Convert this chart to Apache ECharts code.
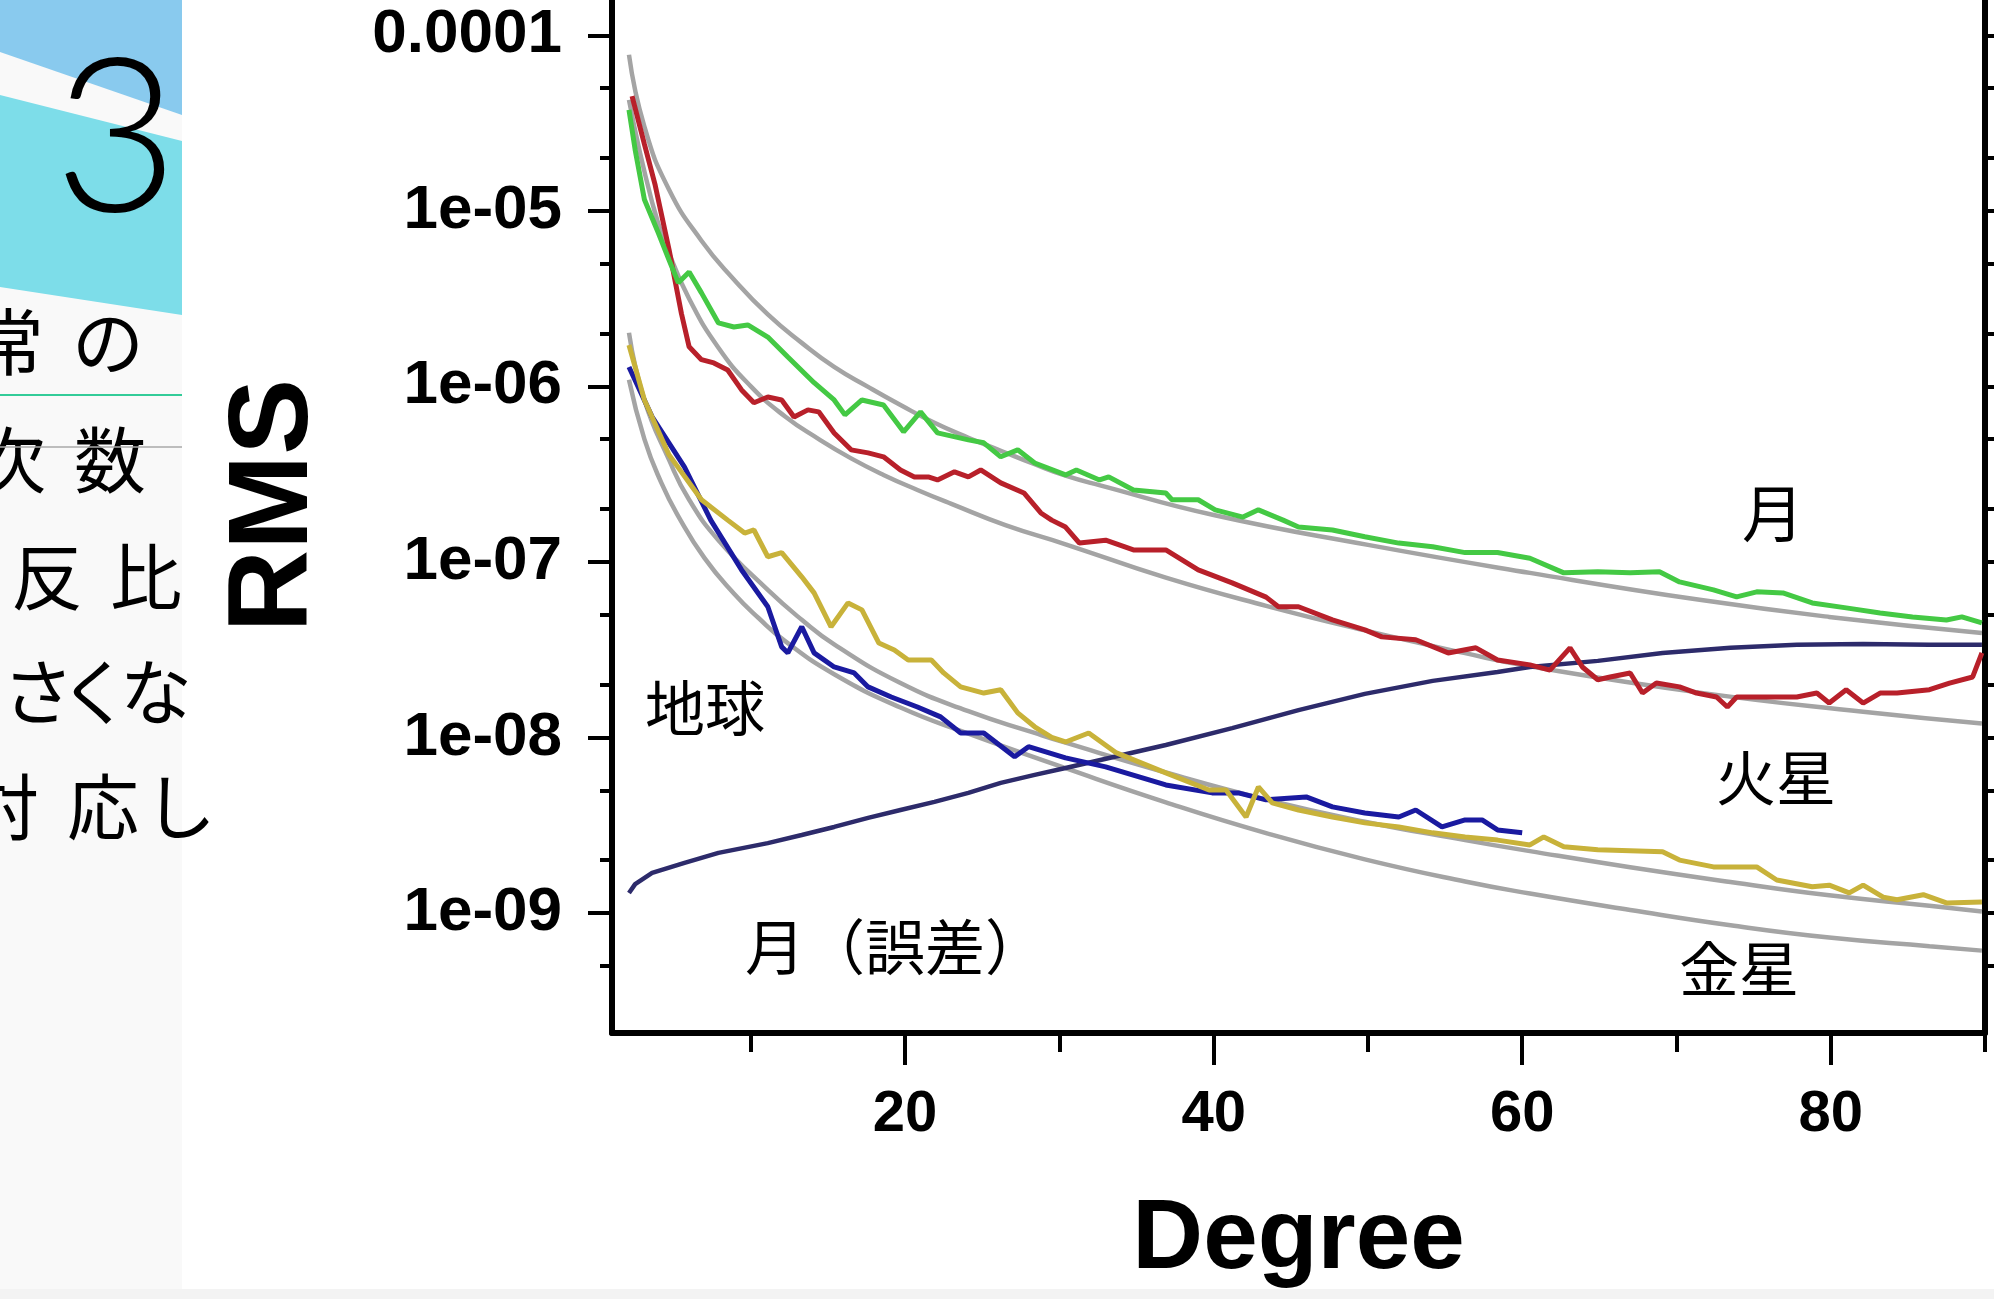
<!DOCTYPE html>
<html>
<head>
<meta charset="utf-8">
<script src="https://cdn.jsdelivr.net/npm/echarts@6/dist/echarts.min.js"></script>
<style>
  html, body { margin: 0; padding: 0; background: #fff; }
  #chart { width: 1994px; height: 1299px; }
</style>
</head>
<body>
<div id="chart"></div>
<script>
// axis ticks
const degreeTicks = [20, 40, 60, 80];
const degreeMinorTicks = [10, 30, 50, 70, 90];
const rmsTicks = [1e-9, 1e-8, 1e-7, 1e-6, 1e-5, 1e-4];
const rmsTickLabels = ['1e-09', '1e-08', '1e-07', '1e-06', '1e-05', '0.0001'];
const rmsMinorTicks = [5e-10, 2e-9, 5e-9, 2e-8, 5e-8, 2e-7, 5e-7, 2e-6, 5e-6, 2e-5, 5e-5];
const degreeMin = 1, degreeMax = 90;
const rmsMin = 2.07e-10, rmsMax = 1.59e-4;

// measured spectra, [degree, rms]
const moonRms = [[2.1,3.76e-5],[2.5,2.23e-5],[3.1,1.16e-5],[4.0,7.5e-6],[4.7,5.25e-6],[5.3,3.89e-6],[6.0,4.49e-6],[6.8,3.41e-6],[7.9,2.30e-6],[8.9,2.18e-6],[9.8,2.24e-6],[11.1,1.91e-6],[12.4,1.47e-6],[14.1,1.05e-6],[15.4,8.37e-7],[16.1,6.88e-7],[17.2,8.37e-7],[18.6,7.83e-7],[19.9,5.51e-7],[21.0,7.16e-7],[22.1,5.43e-7],[24.1,4.96e-7],[25.1,4.77e-7],[26.2,3.97e-7],[27.3,4.35e-7],[28.4,3.66e-7],[30.4,3.13e-7],[31.1,3.34e-7],[32.6,2.93e-7],[33.2,3.05e-7],[34.8,2.57e-7],[36.9,2.47e-7],[37.3,2.26e-7],[39.0,2.26e-7],[40.1,1.98e-7],[41.9,1.80e-7],[42.9,1.98e-7],[44.5,1.73e-7],[45.5,1.58e-7],[47.7,1.52e-7],[49.8,1.39e-7],[52.0,1.28e-7],[54.2,1.22e-7],[56.3,1.13e-7],[58.4,1.13e-7],[60.5,1.05e-7],[62.7,8.66e-8],[64.9,8.78e-8],[67.0,8.66e-8],[68.9,8.78e-8],[70.2,7.69e-8],[72.4,6.93e-8],[73.9,6.32e-8],[75.2,6.75e-8],[76.9,6.66e-8],[78.8,5.84e-8],[81.0,5.47e-8],[83.2,5.12e-8],[85.3,4.86e-8],[87.5,4.67e-8],[88.5,4.86e-8],[89.8,4.49e-8]];
const marsRms = [[2.3,4.5e-5],[3.1,2.4e-5],[3.8,1.4e-5],[4.7,6.0e-6],[5.5,2.6e-6],[6.0,1.68e-6],[6.8,1.42e-6],[7.6,1.36e-6],[8.5,1.24e-6],[9.4,9.55e-7],[10.2,8.07e-7],[11.1,8.7e-7],[12.0,8.37e-7],[12.8,6.7e-7],[13.7,7.35e-7],[14.4,7.16e-7],[15.4,5.43e-7],[16.5,4.35e-7],[17.6,4.18e-7],[18.6,3.97e-7],[19.7,3.34e-7],[20.6,3.05e-7],[21.5,3.05e-7],[22.1,2.93e-7],[23.2,3.26e-7],[24.1,3.05e-7],[24.9,3.34e-7],[26.2,2.82e-7],[27.7,2.47e-7],[28.8,1.90e-7],[29.5,1.73e-7],[30.4,1.58e-7],[31.3,1.28e-7],[33.0,1.33e-7],[34.8,1.17e-7],[36.9,1.17e-7],[39.0,9.0e-8],[41.2,7.6e-8],[43.4,6.3e-8],[44.2,5.55e-8],[45.5,5.55e-8],[47.7,4.67e-8],[49.8,4.1e-8],[50.9,3.74e-8],[53.1,3.6e-8],[55.2,3.03e-8],[57.0,3.24e-8],[58.4,2.76e-8],[60.5,2.59e-8],[61.8,2.42e-8],[63.1,3.24e-8],[63.9,2.52e-8],[64.9,2.13e-8],[65.7,2.21e-8],[67.0,2.33e-8],[67.8,1.79e-8],[68.7,2.04e-8],[70.2,1.94e-8],[71.3,1.79e-8],[72.6,1.70e-8],[73.3,1.49e-8],[73.9,1.70e-8],[75.6,1.70e-8],[77.8,1.70e-8],[79.1,1.79e-8],[79.9,1.57e-8],[81.0,1.87e-8],[82.1,1.57e-8],[83.2,1.79e-8],[84.3,1.79e-8],[86.4,1.87e-8],[87.7,2.04e-8],[89.2,2.21e-8],[89.8,3.03e-8]];
const venusRms = [[2.1,1.72e-6],[3.1,8.37e-7],[4.7,4.07e-7],[6.8,2.26e-7],[8.5,1.73e-7],[9.6,1.46e-7],[10.2,1.52e-7],[11.1,1.07e-7],[12.0,1.13e-7],[13.3,8.22e-8],[14.1,6.66e-8],[15.2,4.27e-8],[16.3,5.84e-8],[17.2,5.33e-8],[18.3,3.45e-8],[19.3,3.15e-8],[20.2,2.76e-8],[21.7,2.76e-8],[22.5,2.33e-8],[23.6,1.94e-8],[25.1,1.79e-8],[26.2,1.87e-8],[27.3,1.38e-8],[28.4,1.15e-8],[29.5,1.0e-8],[30.4,9.42e-9],[31.9,1.06e-8],[33.7,8.16e-9],[36.9,6.28e-9],[39.7,5.02e-9],[40.8,5.02e-9],[42.1,3.52e-9],[42.9,5.22e-9],[43.8,4.24e-9],[45.5,3.86e-9],[47.7,3.52e-9],[49.8,3.26e-9],[52.0,3.09e-9],[54.2,2.86e-9],[56.3,2.71e-9],[58.4,2.60e-9],[60.5,2.44e-9],[61.4,2.71e-9],[62.7,2.38e-9],[64.9,2.29e-9],[69.1,2.23e-9],[70.2,2.0e-9],[72.4,1.83e-9],[75.2,1.83e-9],[76.5,1.54e-9],[78.8,1.41e-9],[79.9,1.44e-9],[81.2,1.30e-9],[82.1,1.44e-9],[83.4,1.23e-9],[84.3,1.19e-9],[86.0,1.27e-9],[87.5,1.14e-9],[89.8,1.155e-9]];
const earthRms = [[2.1,1.29e-6],[3.6,6.7e-7],[5.7,3.47e-7],[7.4,1.73e-7],[9.4,9.0e-8],[11.1,5.55e-8],[12.0,3.28e-8],[12.4,3.03e-8],[13.3,4.27e-8],[14.1,3.03e-8],[15.4,2.52e-8],[16.7,2.33e-8],[17.6,1.94e-8],[19.1,1.70e-8],[20.8,1.49e-8],[22.3,1.31e-8],[23.6,1.06e-8],[25.1,1.06e-8],[27.1,7.75e-9],[28.0,8.86e-9],[30.4,7.65e-9],[33.0,6.8e-9],[36.9,5.36e-9],[39.9,4.83e-9],[41.6,4.83e-9],[43.4,4.41e-9],[46.0,4.58e-9],[47.7,4.02e-9],[49.8,3.71e-9],[52.0,3.52e-9],[53.1,3.86e-9],[54.8,3.09e-9],[56.3,3.39e-9],[57.4,3.39e-9],[58.4,2.97e-9],[60.0,2.86e-9]];
const moonErrRms = [[2.1,1.30e-9],[2.5,1.46e-9],[3.6,1.69e-9],[5.7,1.93e-9],[7.9,2.20e-9],[11.1,2.50e-9],[13.3,2.78e-9],[15.4,3.09e-9],[17.6,3.48e-9],[19.7,3.86e-9],[21.9,4.29e-9],[24.1,4.83e-9],[26.2,5.51e-9],[28.4,6.12e-9],[30.4,6.70e-9],[36.9,9.06e-9],[41.2,1.13e-8],[45.5,1.43e-8],[49.8,1.77e-8],[54.2,2.10e-8],[58.4,2.36e-8],[60.5,2.52e-8],[64.9,2.73e-8],[69.1,3.03e-8],[73.5,3.24e-8],[77.8,3.37e-8],[82.1,3.41e-8],[86.4,3.37e-8],[89.8,3.37e-8]];

// Kaula-rule reference curves (grey)
const moonKaula = [[2.1,7.75e-5],[3.1,3.02e-5],[4.7,1.32e-5],[6.8,6.76e-6],[8.9,4.07e-6],[11.1,2.57e-6],[13.3,1.77e-6],[15.4,1.29e-6],[17.6,9.93e-7],[19.7,7.83e-7],[21.9,6.2e-7],[24.1,5.1e-7],[26.2,4.3e-7],[28.4,3.6e-7],[30.4,3.1e-7],[32.7,2.72e-7],[40.0,1.85e-7],[50.0,1.25e-7],[60.5,8.66e-8],[71.5,6.08e-8],[79.9,4.86e-8],[89.8,3.94e-8]];
const marsKaula = [[2.1,4.29e-5],[3.6,1.12e-5],[4.7,5.75e-6],[6.0,3.16e-6],[7.9,1.66e-6],[10.0,1.0e-6],[12.2,6.76e-7],[14.4,5.01e-7],[16.5,3.89e-7],[18.6,3.13e-7],[20.8,2.57e-7],[23.0,2.14e-7],[26.5,1.62e-7],[30.4,1.26e-7],[36.9,8.13e-8],[43.4,5.62e-8],[49.8,4.07e-8],[56.3,3.02e-8],[60.5,2.54e-8],[71.5,1.80e-8],[82.1,1.40e-8],[89.8,1.20e-8]];
const venusKaula = [[2.1,2.02e-6],[3.1,8.37e-7],[4.7,3.81e-7],[6.0,2.26e-7],[7.9,1.33e-7],[11.1,6.92e-8],[13.3,4.68e-8],[15.4,3.39e-8],[19.7,2.04e-8],[24.1,1.41e-8],[28.4,1.06e-8],[30.4,9.33e-9],[36.9,6.31e-9],[43.4,4.42e-9],[49.8,3.31e-9],[56.3,2.60e-9],[60.5,2.25e-9],[67.0,1.82e-9],[73.5,1.50e-9],[79.9,1.26e-9],[86.4,1.10e-9],[89.8,1.02e-9]];
const earthKaula = [[2.1,1.09e-6],[3.1,5.01e-7],[4.2,2.82e-7],[5.3,1.82e-7],[7.0,1.05e-7],[8.9,6.61e-8],[10.5,4.79e-8],[12.2,3.55e-8],[15.4,2.29e-8],[19.7,1.48e-8],[24.1,1.05e-8],[30.4,6.68e-9],[36.9,4.27e-9],[43.4,2.85e-9],[49.8,2.02e-9],[56.3,1.51e-9],[60.5,1.29e-9],[67.0,1.04e-9],[73.5,8.51e-10],[79.9,7.24e-10],[86.4,6.46e-10],[89.8,6.10e-10]];

const chart = echarts.init(document.getElementById('chart'), null, { renderer: 'canvas' });

const axisFont = 'Liberation Sans';
const jpFont = 'Noto Sans CJK JP';

function rmsLabel(v) {
  let best = 0;
  rmsTicks.forEach((t, i) => {
    if (Math.abs(Math.log10(t) - Math.log10(v)) < Math.abs(Math.log10(rmsTicks[best]) - Math.log10(v))) best = i;
  });
  return rmsTickLabels[best];
}

function logAxis(position, tickLen, ticks, withLine, withLabel) {
  return {
    type: 'log',
    logBase: 10,
    min: rmsMin,
    max: rmsMax,
    position: position,
    axisLine: { show: withLine, onZero: false, lineStyle: { color: '#000', width: 6 } },
    axisTick: { show: true, length: tickLen, customValues: ticks, lineStyle: { color: '#000', width: 4 } },
    axisLabel: withLabel ? {
      show: true,
      customValues: rmsTicks,
      formatter: rmsLabel,
      margin: 50,
      color: '#000',
      fontFamily: axisFont,
      fontWeight: 'bold',
      fontSize: 62
    } : { show: false },
    splitLine: { show: false },
    minorTick: { show: false }
  };
}

function jpText(str, x, y, size) {
  return {
    type: 'text',
    x: x,
    y: y,
    silent: true,
    style: {
      text: str,
      fill: '#000',
      fontFamily: jpFont,
      fontSize: size,
      align: 'center',
      verticalAlign: 'middle',
      textAlign: 'center',
      textVerticalAlign: 'middle'
    }
  };
}

function line(name, data, color, width, smooth) {
  return {
    name: name,
    type: 'line',
    data: data,
    showSymbol: false,
    symbol: 'none',
    smooth: smooth ? 0.5 : false,
    lineStyle: { color: color, width: width },
    itemStyle: { color: color },
    animation: false
  };
}

// slide fragment on the left
const panel = [
  { type: 'rect', shape: { x: 0, y: 0, width: 182, height: 1290 }, style: { fill: '#f9f9f9' }, silent: true },
  { type: 'rect', shape: { x: 0, y: 1289, width: 1994, height: 10 }, style: { fill: '#f3f3f3' }, silent: true },
  { type: 'polygon', shape: { points: [[0, 0], [182, 0], [182, 115], [0, 52]] }, style: { fill: '#89caee' }, silent: true },
  { type: 'polygon', shape: { points: [[0, 95], [182, 141], [182, 315], [0, 287]] }, style: { fill: '#7ddde9' }, silent: true },
  {
    type: 'text', x: 116, y: 142, silent: true,
    style: { text: '3', fill: '#000', fontFamily: 'Lato', fontWeight: 300, fontSize: 215,
      align: 'center', verticalAlign: 'middle', textAlign: 'center', textVerticalAlign: 'middle' }
  },
  { type: 'line', shape: { x1: 0, y1: 395, x2: 182, y2: 395 }, style: { stroke: '#33cc99', lineWidth: 2 }, silent: true },
  jpText('常', 8, 342, 72), jpText('の', 108, 342, 72),
  jpText('次', 10, 460, 72), jpText('数', 110, 460, 72),
  jpText('反', 47, 577, 72), jpText('比', 146, 577, 72),
  jpText('さ', 38, 692, 72), jpText('く', 95, 692, 72), jpText('な', 156, 692, 72),
  jpText('対', 3, 807, 72), jpText('応', 103, 807, 72), jpText('し', 180, 807, 72),
  { type: 'line', shape: { x1: 0, y1: 447, x2: 182, y2: 447 }, style: { stroke: '#a8a8a8', lineWidth: 1.5 }, silent: true }
];

// body labels inside the plot
const labels = [
  jpText('月', 1773, 513, 62),
  jpText('火星', 1776, 778, 60),
  jpText('金星', 1739, 969, 60),
  jpText('地球', 705, 708, 60),
  jpText('月（誤差）', 895, 947, 60)
];

const option = {
  backgroundColor: '#fff',
  animation: false,
  grid: { left: 612, right: 9, top: 0, bottom: 266, containLabel: false },
  xAxis: [
    {
      type: 'value',
      min: degreeMin,
      max: degreeMax,
      position: 'bottom',
      axisLine: { show: true, onZero: false, lineStyle: { color: '#000', width: 6 } },
      axisTick: { show: true, length: 32, customValues: degreeTicks, lineStyle: { color: '#000', width: 4 } },
      axisLabel: {
        show: true, customValues: degreeTicks, margin: 53,
        color: '#000', fontFamily: axisFont, fontWeight: 'bold', fontSize: 58
      },
      splitLine: { show: false },
      name: 'Degree',
      nameLocation: 'middle',
      nameGap: 159,
      nameTextStyle: { color: '#000', fontFamily: axisFont, fontWeight: 'bold', fontSize: 98 }
    },
    {
      type: 'value',
      min: degreeMin,
      max: degreeMax,
      position: 'bottom',
      axisLine: { show: false, onZero: false },
      axisTick: { show: true, length: 19, customValues: degreeMinorTicks, lineStyle: { color: '#000', width: 4 } },
      axisLabel: { show: false },
      splitLine: { show: false }
    }
  ],
  yAxis: [
    Object.assign(logAxis('left', 24, rmsTicks, true, true), {
      name: 'RMS',
      nameLocation: 'middle',
      nameRotate: 90,
      nameGap: 279,
      nameTextStyle: { color: '#000', fontFamily: axisFont, fontWeight: 'bold', fontSize: 114, padding: [0, 0, 0, 22] }
    }),
    logAxis('left', 12, rmsMinorTicks, false, false),
    logAxis('right', 24, rmsTicks, true, false),
    logAxis('right', 12, rmsMinorTicks, false, false)
  ],
  series: [
    line('Kaula 月', moonKaula, '#a4a4a4', 4.5, true),
    line('Kaula 火星', marsKaula, '#a4a4a4', 4.5, true),
    line('Kaula 金星', venusKaula, '#a4a4a4', 4.5, true),
    line('Kaula 地球', earthKaula, '#a4a4a4', 4.5, true),
    line('月（誤差）', moonErrRms, '#2d2b6b', 4.5, false),
    line('地球', earthRms, '#1a1aa0', 5, false),
    line('金星', venusRms, '#c8b23a', 5, false),
    line('火星', marsRms, '#b8202a', 5, false),
    line('月', moonRms, '#44c944', 5, false)
  ],
  graphic: panel.concat(labels)
};

chart.setOption(option);
</script>
</body>
</html>
